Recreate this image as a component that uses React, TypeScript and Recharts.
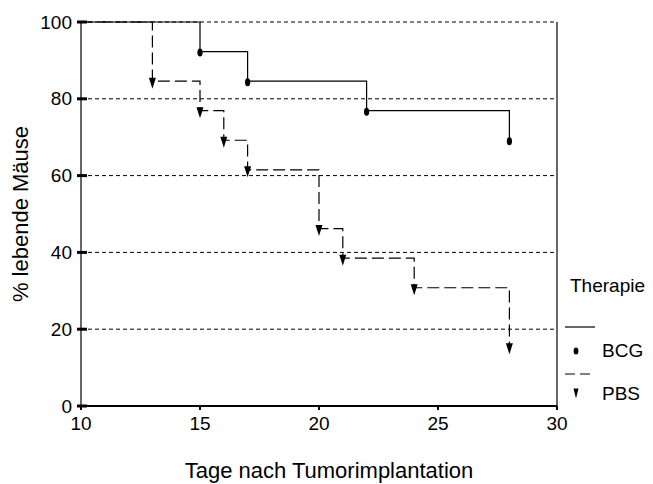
import { CartesianGrid, Legend, Line, LineChart, ReferenceLine, XAxis, YAxis } from 'recharts';

const bcgDays = [10, 15, 17, 22, 28];
const bcgSurvival = [100, 92.3, 84.6, 76.9, 69.2];
const pbsDays = [10, 13, 15, 16, 17, 20, 21, 24, 28];
const pbsSurvival = [100, 84.6, 76.9, 69.2, 61.5, 46.2, 38.5, 30.8, 15.4];
const xTicks = [10, 15, 20, 25, 30];
const yTicks = [0, 20, 40, 60, 80, 100];

const bcgData = bcgDays.map((day, i) => ({ day, survival: bcgSurvival[i] }));
const pbsData = pbsDays.map((day, i) => ({ day, survival: pbsSurvival[i] }));

const font = '"Liberation Sans", Arial, sans-serif';
const pbsDash = '12 5';

const Ellipse = ({ cx, cy, rx = 2.6, ry = 4 }: any) => <ellipse cx={cx} cy={cy} rx={rx} ry={ry} fill='#000' />;
const Triangle = ({ cx, cy, w = 7, h = 11 }: any) => (
  <path d={`M${cx - w / 2},${cy - 3.5}L${cx + w / 2},${cy - 3.5}L${cx},${cy - 3.5 + h}Z`} fill='#000' />
);

const bcgDot = (p: any) =>
  p.index === 0 ? <g key={p.key ?? p.index} /> : <Ellipse key={p.key ?? p.index} cx={p.cx} cy={p.cy + 1} />;
const pbsDot = (p: any) =>
  p.index === 0 ? <g key={p.key ?? p.index} /> : <Triangle key={p.key ?? p.index} cx={p.cx} cy={p.cy} />;

const YTick = ({ x, y, payload }: any) => (
  <g>
    <line x1={x + 5} x2={x + 15} y1={y} y2={y} stroke='#000' strokeWidth={3} />
    <text x={x} y={y} dy='0.35em' textAnchor='end' fontSize={19} fontFamily={font} fill='#000'>
      {payload.value}
    </text>
  </g>
);

const renderLegend = () => (
  <svg width={93} height={140} style={{ fontFamily: font }}>
    <text x={10} y={22} fontSize={19} fill='#000'>Therapie</text>
    <line x1={5} x2={35} y1={57} y2={57} stroke='#000' strokeWidth={1.2} />
    <Ellipse cx={16} cy={81} rx={2.4} ry={3.6} />
    <text x={42} y={87} fontSize={19} fill='#000'>BCG</text>
    <line x1={5} x2={35} y1={104} y2={104} stroke='#000' strokeWidth={1.2} strokeDasharray='10 5' />
    <Triangle cx={16} cy={122} w={5} h={10} />
    <text x={42} y={130} fontSize={19} fill='#000'>PBS</text>
  </svg>
);

export default function App() {
  return (
    <div style={{ position: 'absolute', left: 0, top: 0 }}>
      <LineChart
        width={653}
        height={484}
        margin={{ top: 22, right: 96, bottom: 0, left: 0 }}
        style={{ fontFamily: font }}
      >
        <CartesianGrid vertical={false} stroke='#000' strokeDasharray='4 3' />
        <XAxis
          dataKey='day'
          type='number'
          domain={[10, 30]}
          ticks={xTicks}
          height={78}
          axisLine={{ stroke: '#000', strokeWidth: 2 }}
          tickLine={{ stroke: '#000', strokeWidth: 2 }}
          tickSize={4}
          tickMargin={7}
          tick={{ fill: '#000', fontSize: 19 }}
          label={{ value: 'Tage nach Tumorimplantation', position: 'insideBottom', offset: 6, dx: 10, fontSize: 22, fill: '#000' }}
        />
        <YAxis
          type='number'
          domain={[0, 100]}
          ticks={yTicks}
          width={81}
          axisLine={{ stroke: '#000', strokeWidth: 1.2 }}
          tickLine={false}
          tickSize={0}
          tickMargin={9}
          tick={<YTick />}
          label={{ value: '% lebende Mäuse', angle: -90, position: 'insideLeft', offset: 20, fontSize: 22, fill: '#000', style: { textAnchor: 'middle' } }}
        />
        <ReferenceLine x={30} stroke='#000' strokeWidth={1.2} />
        <Line
          data={bcgData}
          dataKey='survival'
          name='BCG'
          type='stepAfter'
          stroke='#000'
          strokeWidth={1.2}
          dot={bcgDot}
          isAnimationActive={false}
        />
        <Line
          data={pbsData}
          dataKey='survival'
          name='PBS'
          type='stepAfter'
          stroke='#000'
          strokeWidth={1.2}
          strokeDasharray={pbsDash}
          dot={pbsDot}
          isAnimationActive={false}
        />
        <Legend
          layout='vertical'
          align='center'
          verticalAlign='middle'
          content={renderLegend}
          wrapperStyle={{ left: 560, top: 270, width: 93, height: 140 }}
        />
      </LineChart>
    </div>
  );
}
